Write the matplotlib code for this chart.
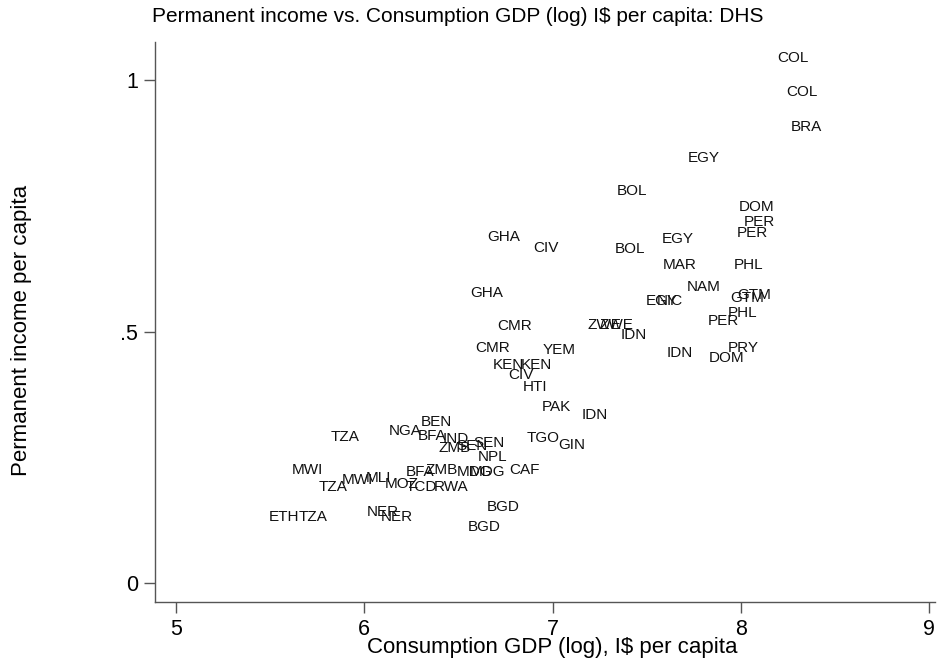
import numpy as np
import matplotlib
matplotlib.use("Agg")
import matplotlib.pyplot as plt

plt.rcParams['font.family'] = ['Liberation Sans', 'DejaVu Sans']

# country code labels with (log consumption GDP, permanent income)
codes = ['COL', 'COL', 'BRA', 'EGY', 'BOL', 'DOM', 'PER', 'PER', 'GHA', 'CIV',
         'BOL', 'EGY', 'MAR', 'PHL', 'NAM', 'EGY', 'NIC', 'GTM', 'GTM', 'GHA',
         'CMR', 'ZWE', 'ZWE', 'IDN', 'PHL', 'PER', 'IDN', 'PRY', 'DOM', 'CMR',
         'YEM', 'KEN', 'KEN', 'CIV', 'HTI', 'PAK', 'IDN', 'TZA', 'NGA', 'BEN',
         'BFA', 'IND', 'ZMB', 'SEN', 'SEN', 'NPL', 'TGO', 'GIN', 'MWI', 'TZA',
         'MWI', 'MLI', 'MOZ', 'TCD', 'RWA', 'BFA', 'ZMB', 'MDG', 'MDG', 'CAF',
         'ETH', 'TZA', 'NER', 'NER', 'BGD', 'BGD']
gdp_log = [8.278, 8.325, 8.347, 7.805, 7.422, 8.086, 8.097, 8.060, 6.742, 6.965,
           7.412, 7.667, 7.677, 8.044, 7.805, 7.582, 7.624, 8.033, 8.070, 6.652,
           6.801, 7.274, 7.337, 7.433, 8.007, 7.906, 7.677, 8.012, 7.922, 6.684,
           7.035, 6.764, 6.912, 6.833, 6.907, 7.019, 7.226, 5.898, 6.216, 6.381,
           6.360, 6.487, 6.482, 6.572, 6.663, 6.679, 6.950, 7.104, 5.696, 5.834,
           5.961, 6.073, 6.201, 6.301, 6.461, 6.296, 6.413, 6.588, 6.657, 6.849,
           5.574, 5.728, 6.100, 6.174, 6.737, 6.636]
perm_income = [1.044, 0.976, 0.907, 0.845, 0.779, 0.748, 0.718, 0.696, 0.688, 0.666,
               0.664, 0.684, 0.632, 0.632, 0.588, 0.561, 0.561, 0.567, 0.573, 0.577,
               0.511, 0.513, 0.513, 0.493, 0.537, 0.521, 0.457, 0.467, 0.447, 0.467,
               0.463, 0.433, 0.433, 0.414, 0.390, 0.350, 0.334, 0.290, 0.302, 0.320,
               0.292, 0.286, 0.268, 0.272, 0.278, 0.250, 0.288, 0.274, 0.225, 0.191,
               0.205, 0.209, 0.197, 0.191, 0.191, 0.221, 0.225, 0.221, 0.221, 0.225,
               0.131, 0.131, 0.141, 0.131, 0.151, 0.111]

xticks = [5, 6, 7, 8, 9]
yticks = [0, 0.5, 1]
ytick_labels = ['0', '.5', '1']

axis_col = '#555555'

fig = plt.figure(figsize=(9.39, 6.63), dpi=100)
ax = fig.add_axes([155/939, 61/663, 780/939, 560/663])

for c, x, y in zip(codes, gdp_log, perm_income):
    ax.text(x, y, c, ha='center', va='center', fontsize=11, color='#111111')

ax.set_xlim(4.888, 9.032)
ax.set_ylim(-0.038, 1.076)
ax.set_xticks(xticks)
ax.set_xticklabels([str(t) for t in xticks])
ax.set_yticks(yticks)
ax.set_yticklabels(ytick_labels)
ax.tick_params(axis='both', length=8, width=1, color=axis_col, labelsize=15.5, pad=4)

for side in ['top', 'right']:
    ax.spines[side].set_visible(False)
for side in ['left', 'bottom']:
    ax.spines[side].set_color(axis_col)
    ax.spines[side].set_linewidth(1)

fig.text(552/939, 1 - 648/663, 'Consumption GDP (log), I$ per capita',
         ha='center', va='center', fontsize=16)
fig.text(22/939, 1 - 330/663, 'Permanent income per capita',
         ha='center', va='center', rotation=90, fontsize=16)
fig.text(458/939, 1 - 17/663,
         'Permanent income vs. Consumption GDP (log) I$ per capita: DHS',
         ha='center', va='center', fontsize=15)

fig.savefig('out.png', dpi=100)
